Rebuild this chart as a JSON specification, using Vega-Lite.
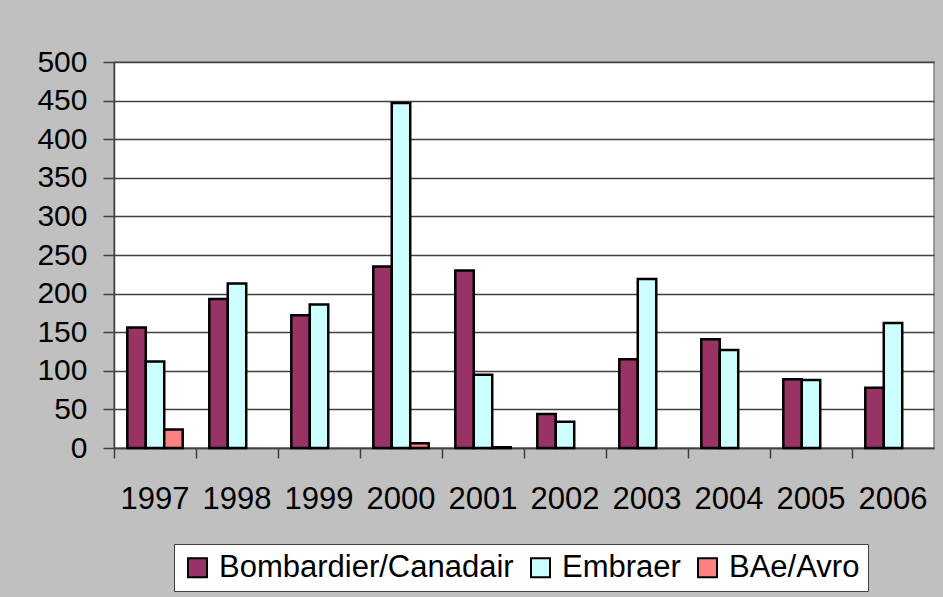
{
  "$schema": "https://vega.github.io/schema/vega-lite/v6.json",
  "width": 820,
  "height": 386,
  "autosize": {"type": "none"},
  "padding": {"left": 114, "top": 62, "right": 9, "bottom": 149},
  "background": "#C0C0C0",
  "config": {
    "view": {"fill": "white", "stroke": "#808080", "strokeWidth": 1.5},
    "font": "Liberation Sans"
  },
  "data": {
    "values": [
      {"year": "1997", "maker": "Bombardier/Canadair", "value": 156},
      {"year": "1997", "maker": "Embraer", "value": 112},
      {"year": "1997", "maker": "BAe/Avro", "value": 24},
      {"year": "1998", "maker": "Bombardier/Canadair", "value": 193},
      {"year": "1998", "maker": "Embraer", "value": 213},
      {"year": "1999", "maker": "Bombardier/Canadair", "value": 172},
      {"year": "1999", "maker": "Embraer", "value": 186},
      {"year": "2000", "maker": "Bombardier/Canadair", "value": 235},
      {"year": "2000", "maker": "Embraer", "value": 447},
      {"year": "2000", "maker": "BAe/Avro", "value": 6},
      {"year": "2001", "maker": "Bombardier/Canadair", "value": 230},
      {"year": "2001", "maker": "Embraer", "value": 95},
      {"year": "2001", "maker": "BAe/Avro", "value": 1},
      {"year": "2002", "maker": "Bombardier/Canadair", "value": 44},
      {"year": "2002", "maker": "Embraer", "value": 34},
      {"year": "2003", "maker": "Bombardier/Canadair", "value": 115},
      {"year": "2003", "maker": "Embraer", "value": 219},
      {"year": "2004", "maker": "Bombardier/Canadair", "value": 141},
      {"year": "2004", "maker": "Embraer", "value": 127},
      {"year": "2005", "maker": "Bombardier/Canadair", "value": 89},
      {"year": "2005", "maker": "Embraer", "value": 88},
      {"year": "2006", "maker": "Bombardier/Canadair", "value": 78},
      {"year": "2006", "maker": "Embraer", "value": 162}
    ]
  },
  "mark": {"type": "bar", "stroke": "black", "strokeWidth": 2.5},
  "encoding": {
    "x": {
      "field": "year",
      "type": "nominal",
      "scale": {"paddingInner": 0, "paddingOuter": 0},
      "axis": {
        "title": null,
        "labelAngle": 0,
        "labelFont": "Liberation Sans",
        "labelFontSize": 31,
        "labelColor": "black",
        "labelBaseline": "alphabetic",
        "labelPadding": 50,
        "bandPosition": 0,
        "tickSize": 10,
        "tickColor": "#404040",
        "tickWidth": 1.5,
        "domainColor": "#404040",
        "domainWidth": 1.5,
        "grid": false
      }
    },
    "xOffset": {
      "field": "maker",
      "type": "nominal",
      "scale": {"domain": ["Bombardier/Canadair", "Embraer", "BAe/Avro"], "paddingInner": 0, "paddingOuter": 0.72}
    },
    "y": {
      "field": "value",
      "type": "quantitative",
      "scale": {"domain": [0, 500], "nice": false},
      "axis": {
        "title": null,
        "values": [0, 50, 100, 150, 200, 250, 300, 350, 400, 450, 500],
        "labelFont": "Liberation Sans",
        "labelFontSize": 30,
        "labelColor": "black",
        "labelPadding": 16,
        "tickSize": 11,
        "tickColor": "#404040",
        "tickWidth": 1.5,
        "domainColor": "#404040",
        "domainWidth": 1.5,
        "gridColor": "#404040",
        "gridWidth": 1.5
      }
    },
    "fill": {
      "field": "maker",
      "type": "nominal",
      "scale": {"domain": ["Bombardier/Canadair", "Embraer", "BAe/Avro"], "range": ["#993366", "#CCFFFF", "#FF8080"]},
      "legend": {
        "title": null,
        "orient": "none",
        "legendX": 60,
        "legendY": 482,
        "direction": "horizontal",
        "fillColor": "white",
        "strokeColor": "#404040",
        "padding": 8,
        "symbolType": "square",
        "symbolSize": 361,
        "symbolStrokeColor": "black",
        "symbolStrokeWidth": 2,
        "labelFont": "Liberation Sans",
        "labelFontSize": 31,
        "labelColor": "black",
        "labelOffset": 6,
        "columnPadding": 11,
        "labelLimit": 500
      }
    }
  }
}
